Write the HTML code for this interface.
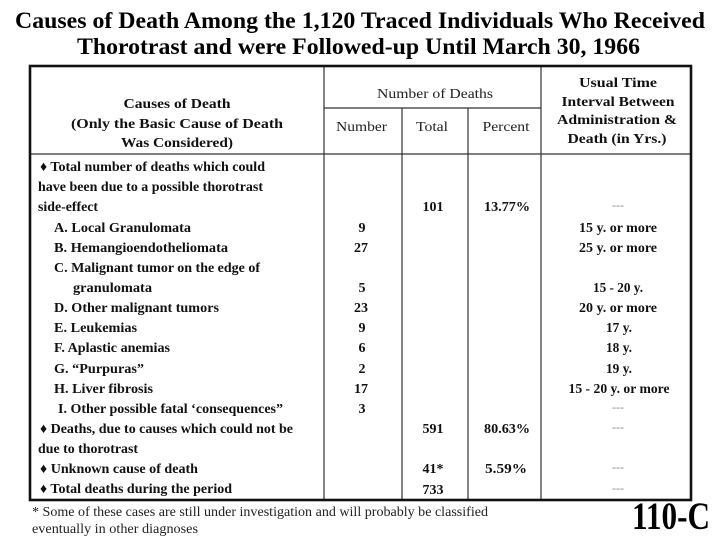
<!DOCTYPE html>
<html><head><meta charset="utf-8"><style>
html,body{margin:0;padding:0;background:#fff;}
svg{display:block;}
text{font-family:"Liberation Serif","DejaVu Serif",serif;}
.b{font-weight:bold;fill:#111;font-size:14px;}
.r{font-weight:normal;fill:#222;font-size:14px;}
.d{fill:#888;font-size:12px;}
</style></head><body>
<svg width="720" height="540" viewBox="0 0 720 540" xmlns="http://www.w3.org/2000/svg">
<rect width="720" height="540" fill="#fff"/>
<text x="15" y="28" font-size="23" font-weight="bold" fill="#000" textLength="690" lengthAdjust="spacingAndGlyphs">Causes of Death Among the 1,120 Traced Individuals Who Received</text>
<text x="77" y="54" font-size="23" font-weight="bold" fill="#000" textLength="563" lengthAdjust="spacingAndGlyphs">Thorotrast and were Followed-up Until March 30, 1966</text>

<g stroke="#333" stroke-width="1.2" fill="none">
<line x1="324" y1="66" x2="324" y2="500"/>
<line x1="541" y1="66" x2="541" y2="500"/>
<line x1="402" y1="108" x2="402" y2="500"/>
<line x1="468" y1="108" x2="468" y2="500"/>
<line x1="324" y1="108" x2="541" y2="108"/>
<line x1="30" y1="154" x2="691" y2="154"/>
</g>
<rect x="30" y="66" width="661" height="434" fill="none" stroke="#111" stroke-width="2.6"/>

<!-- header -->
<text class="b" x="177" y="108" text-anchor="middle" textLength="107" lengthAdjust="spacingAndGlyphs">Causes of Death</text>
<text class="b" x="177" y="128" text-anchor="middle" textLength="212" lengthAdjust="spacingAndGlyphs">(Only the Basic Cause of Death</text>
<text class="b" x="177" y="147" text-anchor="middle" textLength="112" lengthAdjust="spacingAndGlyphs">Was Considered)</text>
<text class="r" x="435" y="98" text-anchor="middle" textLength="116" lengthAdjust="spacingAndGlyphs">Number of Deaths</text>
<text class="r" x="361.5" y="131" text-anchor="middle" textLength="51" lengthAdjust="spacingAndGlyphs">Number</text>
<text class="r" x="432" y="131" text-anchor="middle" textLength="32" lengthAdjust="spacingAndGlyphs">Total</text>
<text class="r" x="506" y="131" text-anchor="middle" textLength="47" lengthAdjust="spacingAndGlyphs">Percent</text>
<text class="b" x="618" y="87" text-anchor="middle" textLength="78" lengthAdjust="spacingAndGlyphs">Usual Time</text>
<text class="b" x="618" y="106" text-anchor="middle" textLength="113" lengthAdjust="spacingAndGlyphs">Interval Between</text>
<text class="b" x="617" y="124" text-anchor="middle" textLength="120" lengthAdjust="spacingAndGlyphs">Administration &amp;</text>
<text class="b" x="617" y="143" text-anchor="middle" textLength="99" lengthAdjust="spacingAndGlyphs">Death (in Yrs.)</text>

<!-- body left -->
<text class="b" x="40" y="171" textLength="225" lengthAdjust="spacingAndGlyphs">♦ Total number of deaths which could</text>
<text class="b" x="38" y="191" textLength="225" lengthAdjust="spacingAndGlyphs">have been due to a possible thorotrast</text>
<text class="b" x="38" y="211" textLength="60" lengthAdjust="spacingAndGlyphs">side-effect</text>
<text class="b" x="54" y="232" textLength="137" lengthAdjust="spacingAndGlyphs">A. Local Granulomata</text>
<text class="b" x="54" y="252" textLength="174" lengthAdjust="spacingAndGlyphs">B. Hemangioendotheliomata</text>
<text class="b" x="54" y="272" textLength="206" lengthAdjust="spacingAndGlyphs">C. Malignant tumor on the edge of</text>
<text class="b" x="73" y="292" textLength="79" lengthAdjust="spacingAndGlyphs">granulomata</text>
<text class="b" x="54" y="312" textLength="165" lengthAdjust="spacingAndGlyphs">D. Other malignant tumors</text>
<text class="b" x="54" y="332" textLength="83" lengthAdjust="spacingAndGlyphs">E. Leukemias</text>
<text class="b" x="54" y="352" textLength="116" lengthAdjust="spacingAndGlyphs">F. Aplastic anemias</text>
<text class="b" x="54" y="373" textLength="90" lengthAdjust="spacingAndGlyphs">G. “Purpuras”</text>
<text class="b" x="54" y="393" textLength="99" lengthAdjust="spacingAndGlyphs">H. Liver fibrosis</text>
<text class="b" x="58" y="413" textLength="225" lengthAdjust="spacingAndGlyphs">I. Other possible fatal ‘consequences”</text>
<text class="b" x="40" y="433" textLength="253" lengthAdjust="spacingAndGlyphs">♦ Deaths, due to causes which could not be</text>
<text class="b" x="38" y="453" textLength="100" lengthAdjust="spacingAndGlyphs">due to thorotrast</text>
<text class="b" x="40" y="473" textLength="158" lengthAdjust="spacingAndGlyphs">♦ Unknown cause of death</text>
<text class="b" x="40" y="493" textLength="192" lengthAdjust="spacingAndGlyphs">♦ Total deaths during the period</text>

<!-- number column -->
<g class="b" text-anchor="middle">
<text x="362" y="232">9</text>
<text x="361" y="252">27</text>
<text x="362" y="292">5</text>
<text x="361" y="312">23</text>
<text x="362" y="332">9</text>
<text x="362" y="352">6</text>
<text x="362" y="373">2</text>
<text x="361" y="393">17</text>
<text x="362" y="413">3</text>
<!-- total -->
<text x="433" y="211">101</text>
<text x="433" y="433">591</text>
<text x="433" y="473">41*</text>
<text x="433" y="494">733</text>
<!-- percent -->
<text x="507" y="211" textLength="46" lengthAdjust="spacingAndGlyphs">13.77%</text>
<text x="507" y="433" textLength="46" lengthAdjust="spacingAndGlyphs">80.63%</text>
<text x="506" y="473" textLength="42" lengthAdjust="spacingAndGlyphs">5.59%</text>
<!-- usual -->
<text x="618" y="232" textLength="78" lengthAdjust="spacingAndGlyphs">15 y. or more</text>
<text x="618" y="252" textLength="78" lengthAdjust="spacingAndGlyphs">25 y. or more</text>
<text x="618" y="292" textLength="50" lengthAdjust="spacingAndGlyphs">15 - 20 y.</text>
<text x="618" y="312" textLength="78" lengthAdjust="spacingAndGlyphs">20 y. or more</text>
<text x="619" y="332" textLength="26" lengthAdjust="spacingAndGlyphs">17 y.</text>
<text x="619" y="352" textLength="26" lengthAdjust="spacingAndGlyphs">18 y.</text>
<text x="619" y="373" textLength="26" lengthAdjust="spacingAndGlyphs">19 y.</text>
<text x="619" y="393" textLength="101" lengthAdjust="spacingAndGlyphs">15 - 20 y. or more</text>
</g>
<g class="d" text-anchor="middle">
<text x="618" y="209">---</text>
<text x="618" y="411">---</text>
<text x="618" y="431">---</text>
<text x="618" y="471">---</text>
<text x="618" y="492">---</text>
</g>

<!-- footnote -->
<text class="r" x="32" y="516" fill="#333" textLength="456" lengthAdjust="spacingAndGlyphs">* Some of these cases are still under investigation and will probably be classified</text>
<text class="r" x="32" y="533" fill="#333" textLength="166" lengthAdjust="spacingAndGlyphs">eventually in other diagnoses</text>
<text x="632" y="529" font-size="39" font-weight="bold" fill="#000" textLength="78" lengthAdjust="spacingAndGlyphs">110-C</text>
</svg>
</body></html>
